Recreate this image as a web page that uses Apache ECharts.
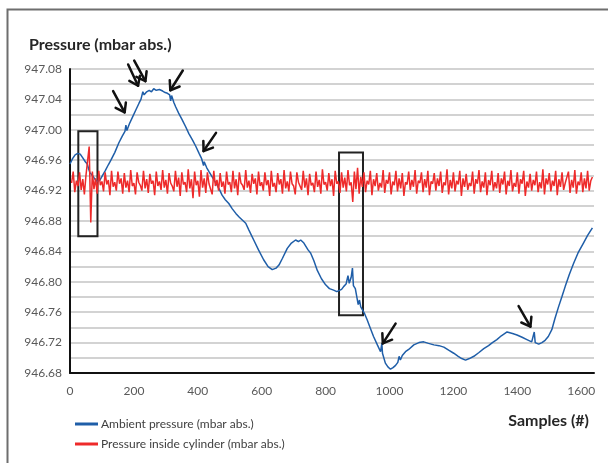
<!DOCTYPE html>
<html>
<head>
<meta charset="utf-8">
<script src="https://cdn.jsdelivr.net/npm/echarts@6/dist/echarts.min.js"></script>
<style>
html,body{margin:0;padding:0;background:#fff;}
#c{width:608px;height:463px;}
</style>
</head>
<body>
<div id="c"></div>
<script>
// ---- data ----
const seriesNames = ['Ambient pressure (mbar abs.)', 'Pressure inside cylinder (mbar abs.)'];
const xTicks = [0, 200, 400, 600, 800, 1000, 1200, 1400, 1600];
const yTicks = [946.68, 946.72, 946.76, 946.80, 946.84, 946.88, 946.92, 946.96, 947.00, 947.04, 947.08];

const ambientSamples = [0,8,16,24,32,40,48,54,58,62,70,78,86,94,102,110,120,128,140,153,164,172,175,178,186,196,206,216,222,226,228,232,240,248,255,262,270,280,290,298,305,312,315,318,325,331,340,350,362,372,384,394,404,412,416,418,420,428,435,445,455,466,476,486,497,508,519,530,540,550,560,575,590,606,620,633,645,654,665,680,693,706,715,722,732,745,753,763,774,787,800,812,825,835,841,850,857,864,870,874,880,884,887,893,899,902,906,910,914,922,930,940,950,962,972,976,978,987,995,1003,1011,1019,1026,1030,1034,1040,1050,1060,1076,1092,1107,1122,1139,1155,1170,1185,1201,1215,1226,1238,1250,1264,1280,1295,1310,1322,1336,1350,1368,1385,1399,1415,1430,1445,1450,1453,1456,1467,1477,1487,1497,1508,1518,1529,1540,1550,1563,1576,1590,1607,1620,1635];
const ambientValues = [946.955,946.962,946.967,946.969,946.968,946.963,946.958,946.955,946.949,946.944,946.940,946.935,946.932,946.934,946.940,946.946,946.954,946.960,946.970,946.983,946.992,946.998,947.006,946.999,947.008,947.017,947.026,947.035,947.040,947.041,947.050,947.046,947.050,947.052,947.050,947.054,947.052,947.053,947.051,947.049,947.048,947.046,947.038,947.045,947.036,947.030,947.022,947.014,947.004,946.995,946.986,946.978,946.969,946.962,946.962,946.953,946.958,946.950,946.945,946.938,946.931,946.923,946.914,946.908,946.903,946.896,946.890,946.885,946.881,946.877,946.868,946.855,946.842,946.829,946.820,946.816,946.818,946.822,946.831,946.844,946.851,946.855,946.853,946.855,946.851,946.842,946.838,946.828,946.815,946.804,946.796,946.791,946.789,946.787,946.789,946.790,946.794,946.797,946.808,946.798,946.806,946.818,946.795,946.791,946.789,946.770,946.776,946.767,946.767,946.758,946.750,946.739,946.728,946.717,946.708,946.719,946.706,946.693,946.688,946.685,946.687,946.690,946.694,946.702,946.697,946.703,946.708,946.711,946.717,946.720,946.721,946.719,946.717,946.716,946.714,946.710,946.706,946.702,946.699,946.697,946.699,946.702,946.707,946.712,946.716,946.720,946.724,946.729,946.734,946.732,946.730,946.727,946.724,946.721,946.722,946.734,946.720,946.718,946.720,946.723,946.728,946.737,946.752,946.767,946.781,946.794,946.810,946.824,946.838,946.851,946.861,946.871];

// cylinder pressure, read every 5 samples starting at sample 5
const cylinderStart = 5;
const cylinderStep = 5;
const cylinderValues = [
946.930,946.945,946.918,946.933,946.926,946.944,946.921,946.935,946.915,946.940,946.940,946.978,946.878,946.945,946.922,946.936,946.916,946.946,946.927,946.932,
946.919,946.944,946.928,946.934,946.914,946.946,946.925,946.931,946.920,946.945,946.929,946.936,946.916,946.943,946.924,946.933,946.918,946.947,946.926,946.930,
946.915,946.944,946.931,946.927,946.920,946.946,946.923,946.935,946.917,946.942,946.929,946.933,946.914,946.945,946.926,946.932,946.921,946.947,946.924,946.934,
946.916,946.943,946.930,946.926,946.919,946.946,946.925,946.937,946.913,946.944,946.928,946.931,946.918,946.948,946.923,946.935,946.910,946.945,946.927,946.933,
946.912,946.947,946.924,946.936,946.917,946.944,946.929,946.930,946.915,946.946,946.926,946.934,946.920,946.943,946.925,946.932,946.916,946.945,946.928,946.931,
946.918,946.946,946.923,946.935,946.914,946.944,946.930,946.927,946.921,946.947,946.924,946.933,946.917,946.942,946.929,946.936,946.915,946.945,946.926,946.931,
946.920,946.944,946.927,946.934,946.913,946.946,946.925,946.930,946.918,946.943,946.928,946.935,946.916,946.947,946.923,946.932,946.919,946.945,946.929,946.926,
946.915,946.944,946.931,946.933,946.921,946.946,946.924,946.936,946.914,946.942,946.927,946.930,946.918,946.945,946.925,946.934,946.916,946.948,946.928,946.931,
946.920,946.943,946.926,946.935,946.913,946.946,946.929,946.932,946.917,946.944,946.924,946.937,946.919,946.947,946.927,946.931,946.905,946.945,946.922,946.950,
946.916,946.938,946.925,946.944,946.918,946.933,946.928,946.946,946.914,946.935,946.926,946.943,946.920,946.930,946.924,946.947,946.917,946.934,946.929,946.944,
946.915,946.932,946.927,946.946,946.919,946.936,946.923,946.943,946.913,946.931,946.928,946.945,946.921,946.934,946.925,946.947,946.916,946.933,946.930,946.944,
946.918,946.935,946.924,946.946,946.914,946.932,946.929,946.943,946.920,946.936,946.926,946.945,946.917,946.931,946.927,946.948,946.915,946.934,946.923,946.944,
946.919,946.933,946.928,946.946,946.913,946.936,946.925,946.942,946.921,946.930,946.926,946.945,946.916,946.935,946.929,946.947,946.918,946.932,946.924,946.944,
946.914,946.934,946.927,946.946,946.920,946.931,946.923,946.943,946.917,946.936,946.928,946.945,946.915,946.933,946.926,946.947,946.919,946.930,946.925,946.944,
946.916,946.935,946.929,946.946,946.913,946.932,946.924,946.942,946.920,946.934,946.927,946.945,946.918,946.931,946.923,946.948,946.915,946.936,946.928,946.943,
946.919,946.933,946.926,946.946,946.914,946.935,946.925,946.944,946.921,946.930,946.929,946.945,946.917,946.934,946.924,946.947,946.916,946.932,946.927,946.944,
946.918,946.936,946.923,946.946,946.920,946.933,946.938
];

// annotation boxes: [sampleFrom, valueTop, sampleTo, valueBottom]
const boxes = [
  [26, 946.998, 86, 946.860],
  [842, 946.970, 917, 946.756]
];
// annotation arrows: tail and tip [sample, value]
const arrowTails = [[135, 947.051],[182, 947.086],[201, 947.091],[353, 947.078],[457, 946.996],[1019, 946.745],[1404, 946.768]];
const arrowTips  = [[171, 947.023],[213, 947.058],[236, 947.064],[314, 947.052],[418, 946.972],[979, 946.719],[1441, 946.741]];

// ---- build ----
const ambientData = ambientSamples.map((s, i) => [s, ambientValues[i]]);
const cylinderData = cylinderValues.map((v, i) => [cylinderStart + i * cylinderStep, v]);
const arrowData = arrowTails.map((t, i) => [t[0], t[1], arrowTips[i][0], arrowTips[i][1]]);

const FONT = 'Lato, "Open Sans", sans-serif';
const chart = echarts.init(document.getElementById('c'), null, {renderer: 'canvas'});
chart.setOption({
  animation: false,
  backgroundColor: '#ffffff',
  graphic: [{
    type: 'rect', left: 5, top: 7, silent: true,
    shape: {width: 640, height: 480},
    style: {fill: 'none', stroke: '#6e6e6e', lineWidth: 2}
  }],
  title: [
    {text: 'Pressure (mbar abs.)', left: 24, top: 32,
     textStyle: {fontFamily: FONT, fontSize: 16, fontWeight: 'bold', color: '#262626'}},
    {text: 'Samples (#)', right: 14, top: 408,
     textStyle: {fontFamily: FONT, fontSize: 16, fontWeight: 'bold', color: '#262626'}}
  ],
  legend: {
    orient: 'vertical', left: 70, top: 413,
    itemWidth: 23, itemHeight: 3, itemGap: 8,
    icon: 'rect',
    data: seriesNames,
    textStyle: {fontFamily: FONT, fontSize: 12, color: '#404040', padding: [0, 0, 0, -2]}
  },
  grid: {left: 70, right: 14, top: 69, bottom: 90},
  xAxis: {
    type: 'value', min: xTicks[0], max: 1640, interval: 200,
    axisLine: {show: true, onZero: false, lineStyle: {color: '#111', width: 2}},
    axisTick: {show: false},
    splitLine: {show: false},
    axisLabel: {fontFamily: FONT, fontSize: 12, color: '#595959', margin: 12, showMaxLabel: false,
      formatter: v => (xTicks.indexOf(v) >= 0 ? String(v) : '')}
  },
  yAxis: {
    type: 'value', min: yTicks[0], max: yTicks[yTicks.length - 1], interval: 0.04,
    axisLine: {show: true, lineStyle: {color: '#111', width: 2}},
    axisTick: {show: false},
    minorTick: {show: false, splitNumber: 2},
    splitLine: {show: true, lineStyle: {color: '#c4c4c4', width: 1.5}},
    minorSplitLine: {show: true, lineStyle: {color: '#c4c4c4', width: 1.5}},
    axisLabel: {fontFamily: FONT, fontSize: 12, color: '#595959', margin: 8,
      formatter: v => v.toFixed(2)}
  },
  series: [
    {
      name: seriesNames[0], type: 'line', data: ambientData,
      showSymbol: false, symbol: 'none',
      lineStyle: {color: '#1f5ea8', width: 1.5},
      itemStyle: {color: '#1f5ea8'}, z: 3
    },
    {
      name: seriesNames[1], type: 'line', data: cylinderData,
      showSymbol: false, symbol: 'none',
      lineStyle: {color: '#ee2a2a', width: 1.5},
      itemStyle: {color: '#ee2a2a'}, z: 4,
      markArea: {
        silent: true,
        itemStyle: {color: 'rgba(0,0,0,0)', borderColor: '#222', borderWidth: 2},
        label: {show: false},
        data: boxes.map(b => [{coord: [b[0], b[1]]}, {coord: [b[2], b[3]]}])
      }
    },
    {
      type: 'custom', silent: true, z: 6, clip: false,
      data: arrowData,
      encode: {x: [0, 2], y: [1, 3]},
      renderItem: function (params, api) {
        const p1 = api.coord([api.value(0), api.value(1)]);
        const p2 = api.coord([api.value(2), api.value(3)]);
        const dx = p2[0] - p1[0], dy = p2[1] - p1[1];
        const len = Math.sqrt(dx * dx + dy * dy);
        const ux = dx / len, uy = dy / len;
        const h = 10, a = 0.62;
        const ca = Math.cos(a), sa = Math.sin(a);
        const l = [p2[0] - h * (ux * ca - uy * sa), p2[1] - h * (ux * sa + uy * ca)];
        const r = [p2[0] - h * (ux * ca + uy * sa), p2[1] - h * (-ux * sa + uy * ca)];
        const st = {stroke: '#111', lineWidth: 2.5, fill: 'none', lineCap: 'round', lineJoin: 'round'};
        return {type: 'group', children: [
          {type: 'polyline', shape: {points: [p1, p2]}, style: st},
          {type: 'polyline', shape: {points: [l, p2, r]}, style: st}
        ]};
      }
    }
  ]
});
</script>
</body>
</html>
